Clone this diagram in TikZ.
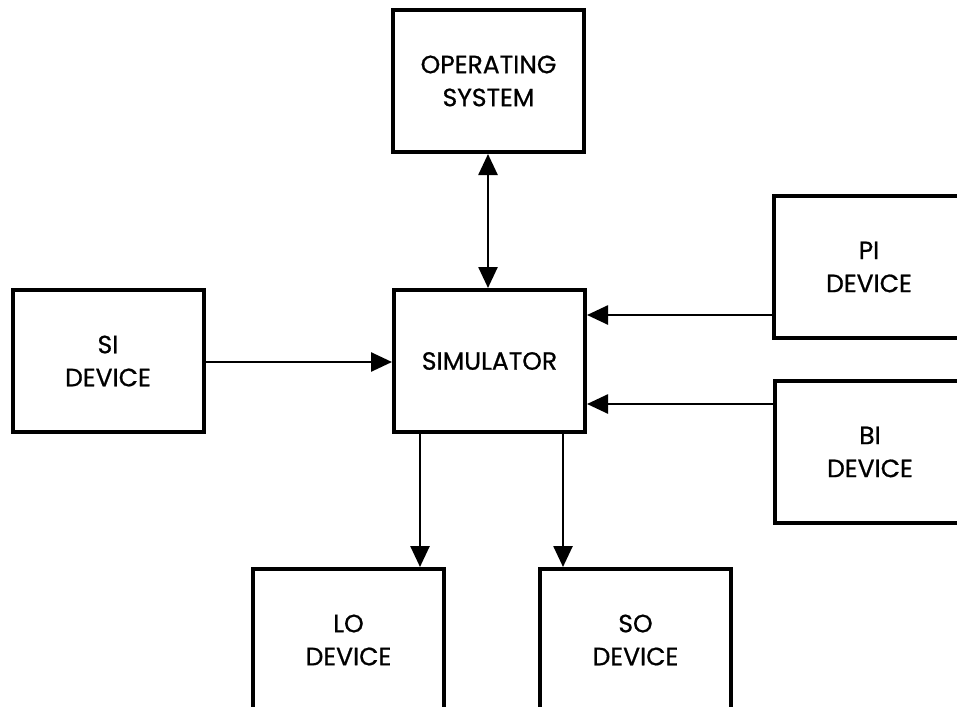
\documentclass[tikz,border=0pt]{standalone}
\usepackage{fontspec}
\setmainfont{Poppins}
\newfontfamily\boxfont{Poppins}[FakeBold=0.8]
\usetikzlibrary{arrows.meta}

\begin{document}
\begin{tikzpicture}
  [x=1pt,y=-1pt,
   box/.style={draw,line width=4pt,minimum width=191pt,minimum height=142pt,
     align=center,font=\boxfont\fontsize{25}{33}\selectfont,inner sep=0pt},
   arr/.style={line width=2.6pt,-{Triangle[length=21pt,width=19pt]}}]
  \useasboundingbox (0,0) rectangle (957,706);
  \clip (0,0) rectangle (957,706);
  \node[box] (os)  at (488.5,81)  {OPERATING\\SYSTEM};
  \node[box] (sim) at (489.5,361) {SIMULATOR};
  \node[box] (si)  at (108,361)   {SI\\DEVICE};
  \node[box] (pi)  at (869,267)   {PI\\DEVICE};
  \node[box] (bi)  at (870,452)   {BI\\DEVICE};
  \node[box] (lo)  at (348.5,640) {LO\\DEVICE};
  \node[box] (so)  at (635.5,640) {SO\\DEVICE};

  \draw[arr,{Triangle[length=21pt,width=19pt]}-{Triangle[length=21pt,width=19pt]}]
    (os.south -| 488,0) -- (sim.north -| 488,0);
  \draw[arr] (si.east |- 0,362) -- (sim.west |- 0,362);
  \draw[arr] (pi.west |- 0,315) -- (sim.east |- 0,315);
  \draw[arr] (bi.west |- 0,404) -- (sim.east |- 0,404);
  \draw[arr] (sim.south -| 420,0) -- (lo.north -| 420,0);
  \draw[arr] (sim.south -| 563,0) -- (so.north -| 563,0);

\end{tikzpicture}
\end{document}
